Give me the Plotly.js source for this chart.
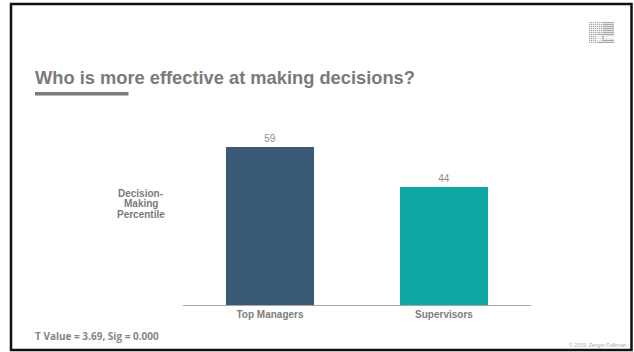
<!DOCTYPE html>
<html>
<head>
<meta charset="utf-8">
<script src="https://cdn.plot.ly/plotly-3.0.1.min.js"></script>
<style>html,body{margin:0;padding:0;background:#fff}#chart{width:634px;height:352px}</style>
</head>
<body>
<div id="chart"></div>
<script>
const categories = ['Top Managers', 'Supervisors'];
const percentile = [59, 44];
const barColors = ['#3b5a78', '#0da8a3'];

const W = 634, H = 352;
const plot = {l: 183, r: 531, t: 104, b: 305};
const fx = x => (x - plot.l) / (plot.r - plot.l);
const fy = y => (plot.b - y) / (plot.b - plot.t);

function rect(x0, y0, x1, y1, fill, line) {
  return {type: 'rect', xref: 'paper', yref: 'paper', layer: 'above',
    x0: fx(x0), x1: fx(x1), y0: fy(y0), y1: fy(y1),
    fillcolor: fill || 'rgba(0,0,0,0)',
    line: line ? {color: line.color, width: line.width} : {width: 0}};
}

function note(x, y, text, size, color, family, anchor) {
  return {xref: 'paper', yref: 'paper', x: fx(x), y: fy(y), text, showarrow: false,
    xanchor: anchor || 'left', yanchor: 'middle', align: anchor === 'center' ? 'center' : 'left',
    borderpad: 0, borderwidth: 0, font: {size, color, family}};
}

// Slide frame and the rule under the heading
const shapes = [
  rect(11, 4, 631.5, 350, null, {color: '#111111', width: 2.5}),
  rect(35, 92, 128.5, 95.5, '#7a7a7a')
];

// Small woven logo in the top-right corner: grey rows cut by white columns on the left
for (let y = 22; y < 43; y += 2) shapes.push(rect(589, y, 614, y + 1, '#a9a9a9'));
for (let y = 23; y < 43; y += 2) shapes.push(rect(589, y, 614, y + 1, '#e6e6e6'));
for (let x = 590; x < 603; x += 2) shapes.push(rect(x, 22, x + 1, 33, 'rgba(255,255,255,0.7)'));
for (let x = 590; x < 597; x += 2) shapes.push(rect(x, 33, x + 1, 43, 'rgba(255,255,255,0.7)'));
shapes.push(rect(597, 35, 602, 41, 'rgba(255,255,255,0.75)'));
shapes.push(rect(604, 36, 614, 39, 'rgba(255,255,255,0.85)'));

const trace = {
  type: 'bar', x: categories, y: percentile,
  marker: {color: barColors, line: {width: 0}},
  text: percentile.map(String), textposition: 'outside', cliponaxis: false,
  textfont: {family: 'Liberation Sans', size: 10, color: '#8c8c8c'},
  hoverinfo: 'skip'
};

const layout = {
  width: W, height: H, showlegend: false,
  paper_bgcolor: '#ffffff', plot_bgcolor: '#ffffff',
  margin: {l: plot.l, r: W - plot.r, t: plot.t, b: H - plot.b, pad: 0},
  bargap: 0.494,
  xaxis: {
    showline: true, linecolor: '#a6a6a6', linewidth: 1.3, ticks: '', showgrid: false, zeroline: false,
    tickfont: {family: 'Liberation Sans', size: 10, color: '#7d7d7d', weight: 'bold'}
  },
  yaxis: {range: [0, 75], visible: false, showgrid: false, zeroline: false},
  shapes,
  annotations: [
    note(35, 78, '<b>Who is more effective at making decisions?</b>', 18.3, '#7a7a7a', 'Liberation Sans', 'left'),
    note(140.5, 193, '<b>Decision-</b>', 10, '#7a7a7a', 'Liberation Sans', 'center'),
    note(140.5, 203.5, '<b>Making</b>', 10, '#7a7a7a', 'Liberation Sans', 'center'),
    note(140.5, 214, '<b>Percentile</b>', 10, '#7a7a7a', 'Liberation Sans', 'center'),
    note(35, 336, '<b>T Value = 3.69, Sig = 0.000</b>', 10, '#858585', 'Open Sans', 'left'),
    note(568.5, 344.5, '© 2019  Zenger Folkman', 5.2, '#ababab', 'Liberation Sans', 'left')
  ]
};

Plotly.newPlot('chart', [trace], layout, {displayModeBar: false, staticPlot: true});
</script>
</body>
</html>
